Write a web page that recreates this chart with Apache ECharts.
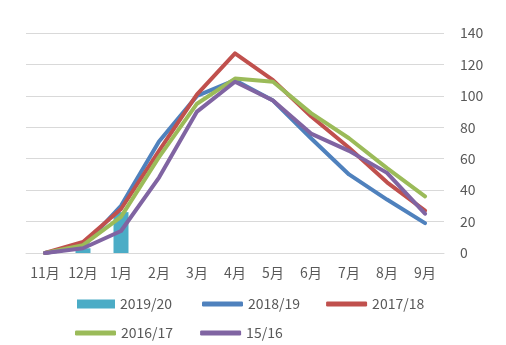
<!DOCTYPE html>
<html><head><meta charset="utf-8">
<script src="https://cdn.jsdelivr.net/npm/echarts@6/dist/echarts.min.js"></script>
<style>html,body{margin:0;padding:0;background:#fff}#c{width:506px;height:345px}</style>
</head><body><div id="c"></div>
<script>
const months = ['11月','12月','1月','2月','3月','4月','5月','6月','7月','8月','9月'];
const s2019_20 = [null, 3, 26, null, null, null, null, null, null, null, null];
const s2018_19 = [0, 4, 30, 71, 100, 110, 97, 73, 50, 34, 19];
const s2017_18 = [0, 7, 28, 65, 101, 127, 110, 87, 67, 45, 27];
const s2016_17 = [0, 5, 23, 61, 95, 111, 109, 89, 73, 54, 36];
const s15_16  = [0, 3, 14, 48, 90, 109, 97, 76, 65, 51, 25];
const yTicks = {min: 0, max: 140, interval: 20};

const font = '"Noto Sans CJK SC", "Open Sans", sans-serif';
const txt = {color: '#595959', fontSize: 14, fontFamily: font};
const C = {bar:'#4BACC6', blue:'#4F81BD', red:'#C0504D', green:'#9BBB59', purple:'#8064A2'};

function line(name, data, color){
  return {name, type:'line', data, symbol:'none', smooth:false,
    lineStyle:{color, width:4, cap:'round', join:'round'}, itemStyle:{color}};
}
const chart = echarts.init(document.getElementById('c'));
chart.setOption({
  animation:false,
  grid:{left:26, right:62, top:33, bottom:92},
  xAxis:{type:'category', data:months, boundaryGap:true,
    axisLine:{lineStyle:{color:'#d9d9d9'}}, axisTick:{show:false},
    axisLabel:Object.assign({margin:13, interval:0, hideOverlap:false}, txt)},
  yAxis:{type:'value', position:'right', min:yTicks.min, max:yTicks.max, interval:yTicks.interval,
    axisLine:{show:false}, axisTick:{show:false},
    splitLine:{lineStyle:{color:'#d9d9d9', width:1}},
    axisLabel:Object.assign({margin:16}, txt)},
  legend:[
    {left:77, top:297, padding:0, itemWidth:38, itemHeight:9, itemGap:30, textStyle:txt,
     data:[{name:'2019/20', icon:'rect'}]},
    {left:202, top:297, padding:0, itemWidth:41, itemHeight:5, itemGap:26, textStyle:txt,
     data:[{name:'2018/19', icon:'roundRect'},{name:'2017/18', icon:'roundRect'}]},
    {left:75, top:326, padding:0, itemWidth:41, itemHeight:5, itemGap:27, textStyle:txt,
     data:[{name:'2016/17', icon:'roundRect'},{name:'15/16', icon:'roundRect'}]}
  ],
  series:[
    {name:'2019/20', type:'bar', data:s2019_20, barWidth:15, itemStyle:{color:C.bar}},
    line('2018/19', s2018_19, C.blue),
    line('2017/18', s2017_18, C.red),
    line('2016/17', s2016_17, C.green),
    line('15/16', s15_16, C.purple)
  ]
});
</script></body></html>
